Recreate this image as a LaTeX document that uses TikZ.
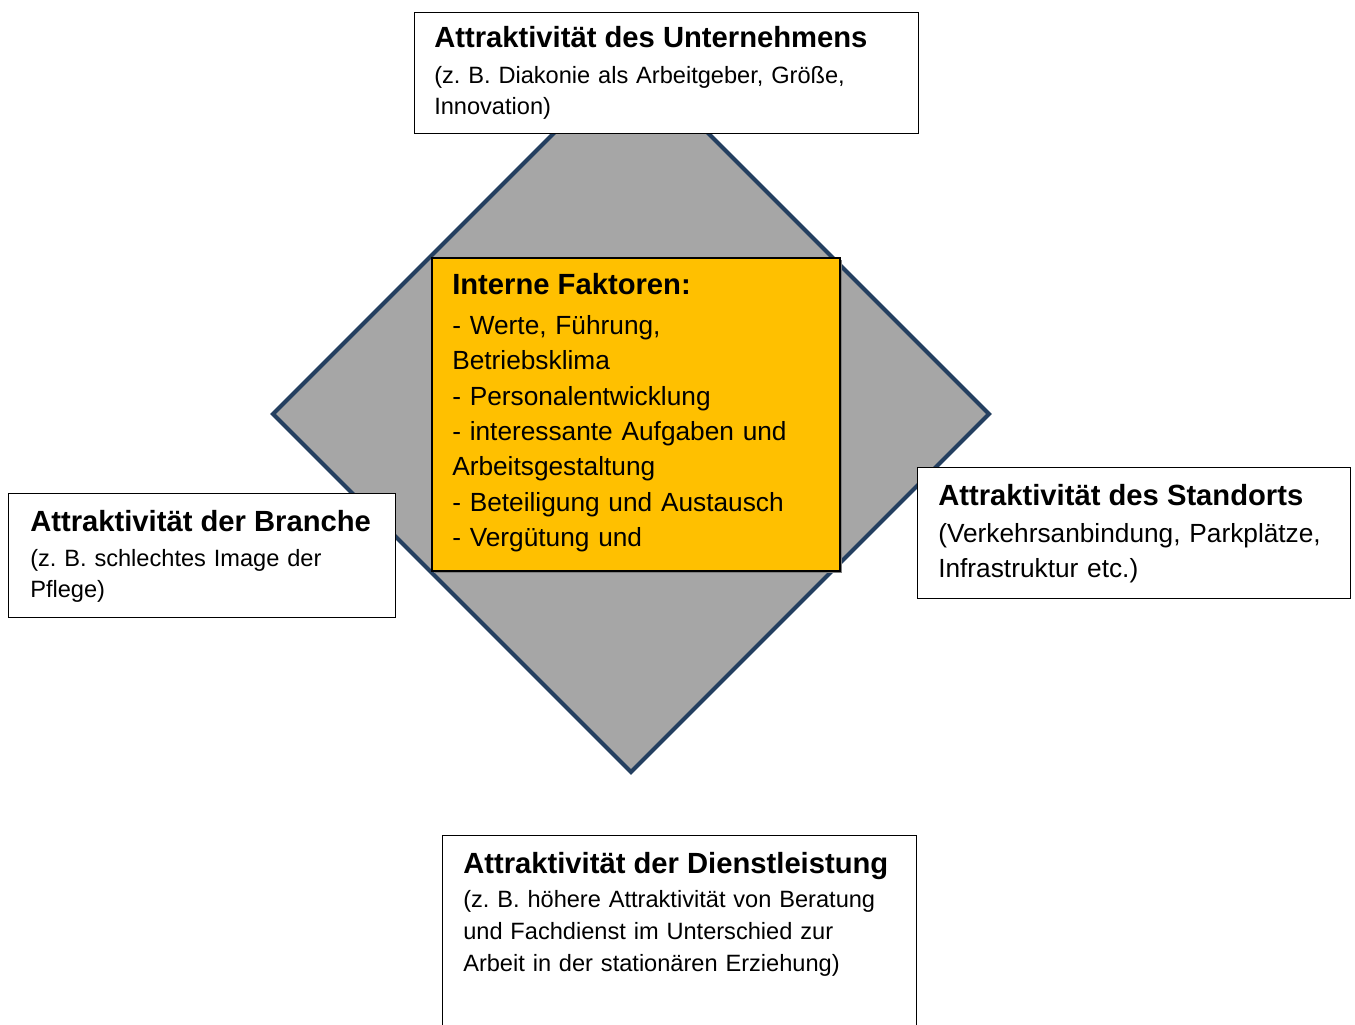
\documentclass[tikz,border=0pt]{standalone}
\usepackage{fontspec}
\setmainfont{Liberation Sans}
\frenchspacing
\definecolor{diamfill}{HTML}{A6A6A6}
\definecolor{diamedge}{HTML}{243F60}
\definecolor{orangefill}{HTML}{FFC000}
\newcommand\ttlfont{\fontsize{21.9}{26}\selectfont\bfseries}
\newcommand\bdyfont{\fontsize{17.7}{23.25}\selectfont}
\newcommand\bdyfontB{\fontsize{17.7}{24}\selectfont}
\newcommand\bdyfontL{\fontsize{19.7}{26.5}\selectfont}
\tikzset{
  outerbox/.style={draw=black, line width=1.1pt, fill=white, anchor=north west, inner sep=0pt},
  innerbox/.style={draw=black, line width=1.3pt, fill=orangefill, anchor=north west, inner sep=0pt},
  ttl/.style={anchor=base west, inner sep=0pt, font=\ttlfont},
  bdy/.style={anchor=base west, inner sep=0pt, align=left, text width=420pt, font=\bdyfont},
}
\begin{document}
\begin{tikzpicture}[x=0.75pt, y=-0.75pt]
\clip (0,0) rectangle (1355,1024);
\fill[white] (0,0) rectangle (1355,1024);
% diamond
\coordinate (dN) at (631,56);
\coordinate (dE) at (989,414);
\coordinate (dS) at (631,772);
\coordinate (dW) at (273,414);
\draw[fill=diamfill, draw=diamedge, line width=3pt, line join=miter] (dN) -- (dE) -- (dS) -- (dW) -- cycle;
% outer boxes
\node[outerbox, minimum width=378pt, minimum height=90.75pt] (top) at (414,12) {};
\node[ttl] (topT) at (434,48) {Attraktivität des Unternehmens};
\node[bdy] (topB) at (434,83.5) {(z. B. Diakonie als Arbeitgeber, Größe,\\Innovation)};
\node[outerbox, minimum width=290.25pt, minimum height=93pt] (left) at (8,493) {};
\node[ttl] (leftT) at (30,531) {Attraktivität der Branche};
\node[bdy] (leftB) at (30,566.5) {(z. B. schlechtes Image der\\Pflege)};
\node[outerbox, minimum width=324.75pt, minimum height=98.25pt] (right) at (917,467) {};
\node[ttl] (rightT) at (938,505) {Attraktivität des Standorts};
\node[bdy, font=\bdyfontL] (rightB) at (938,542.5) {(Verkehrsanbindung, Parkplätze,\\Infrastruktur etc.)};
\node[outerbox, minimum width=355.5pt, minimum height=153.75pt] (bottom) at (442,835) {};
\node[ttl] (bottomT) at (463,873) {Attraktivität der Dienstleistung};
\node[bdy, font=\bdyfontB] (bottomB) at (463,907.5) {(z. B. höhere Attraktivität von Beratung\\und Fachdienst im Unterschied zur\\Arbeit in der stationären Erziehung)};
% inner box with shadow
\fill[black!50] (434,260) rectangle (842,573);
\node[innerbox, minimum width=306pt, minimum height=234.75pt] (inner) at (431,257) {};
\node[ttl] (innerT) at (452,294.5) {Interne Faktoren:};
\node[bdy, font=\bdyfontL] (innerB) at (452,334.5) {- Werte, Führung,\\Betriebsklima\\- Personalentwicklung\\- interessante Aufgaben und\\Arbeitsgestaltung\\- Beteiligung und Austausch\\- Vergütung und};
\end{tikzpicture}
\end{document}
